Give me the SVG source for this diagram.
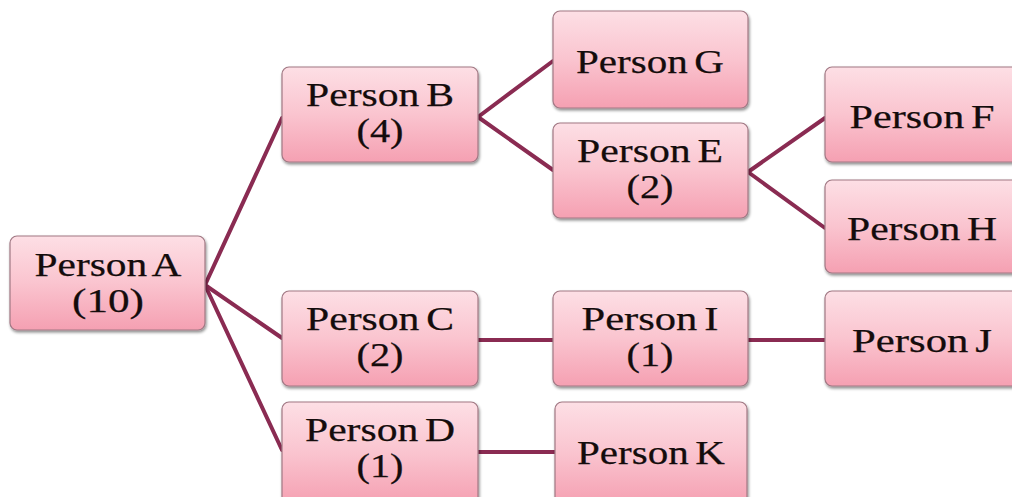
<svg xmlns="http://www.w3.org/2000/svg" width="1012" height="497" viewBox="0 0 1012 497">
  <defs>
    <linearGradient id="boxFill" x1="0" y1="0" x2="0" y2="1">
      <stop offset="0" stop-color="#fddfe5"/>
      <stop offset="0.5" stop-color="#fac4cf"/>
      <stop offset="1" stop-color="#f5a0b2"/>
    </linearGradient>
    <filter id="shadow" x="-10%" y="-10%" width="120%" height="130%">
      <feGaussianBlur in="SourceAlpha" stdDeviation="1.5"/>
      <feOffset dx="1" dy="2" result="b"/>
      <feComponentTransfer><feFuncA type="linear" slope="0.45"/></feComponentTransfer>
      <feMerge><feMergeNode/><feMergeNode in="SourceGraphic"/></feMerge>
    </filter>
  </defs>
  <style>
    .box { fill: url(#boxFill); stroke: #a17884; stroke-width: 1.2; filter: url(#shadow); }
    .lbl { font-family: "Liberation Serif", "DejaVu Serif", serif; font-size: 34px; fill: #140c0c; stroke: #140c0c; stroke-width: 0.25; text-anchor: middle; word-spacing: -3px; }
    .link { stroke: #8a2b52; stroke-width: 4; fill: none; stroke-linecap: round; }
  </style>
  <rect width="1012" height="497" fill="#ffffff"/>

  <!-- connectors -->
  <g id="connectors">
    <line class="link" x1="205" y1="285" x2="282" y2="118"/>
    <line class="link" x1="205" y1="285" x2="282" y2="338"/>
    <line class="link" x1="205" y1="285" x2="282" y2="450"/>
    <line class="link" x1="478" y1="117" x2="553" y2="61"/>
    <line class="link" x1="478" y1="117" x2="553" y2="170"/>
    <line class="link" x1="748" y1="172" x2="825" y2="118"/>
    <line class="link" x1="748" y1="172" x2="825" y2="228"/>
    <line class="link" x1="478" y1="340" x2="553" y2="340"/>
    <line class="link" x1="748" y1="340" x2="825" y2="340"/>
    <line class="link" x1="478" y1="452" x2="555" y2="452"/>
  </g>

  <g id="personA">
    <rect class="box" x="10" y="236" width="195" height="94" rx="7"/>
    <text class="lbl" x="108" y="276" textLength="147" lengthAdjust="spacingAndGlyphs">Person A</text>
    <text class="lbl" x="108" y="312" textLength="72" lengthAdjust="spacingAndGlyphs">(10)</text>
  </g>
  <g id="personB">
    <rect class="box" x="282" y="67" width="196" height="95" rx="7"/>
    <text class="lbl" x="380" y="106" textLength="148" lengthAdjust="spacingAndGlyphs">Person B</text>
    <text class="lbl" x="380" y="142" textLength="47" lengthAdjust="spacingAndGlyphs">(4)</text>
  </g>
  <g id="personG">
    <rect class="box" x="553" y="11" width="195" height="97" rx="7"/>
    <text class="lbl" x="650" y="73" textLength="148" lengthAdjust="spacingAndGlyphs">Person G</text>
  </g>
  <g id="personE">
    <rect class="box" x="553" y="123" width="195" height="95" rx="7"/>
    <text class="lbl" x="650" y="162" textLength="146" lengthAdjust="spacingAndGlyphs">Person E</text>
    <text class="lbl" x="650" y="198" textLength="47" lengthAdjust="spacingAndGlyphs">(2)</text>
  </g>
  <g id="personF">
    <rect class="box" x="825" y="67" width="200" height="95" rx="7"/>
    <text class="lbl" x="922" y="128" textLength="145" lengthAdjust="spacingAndGlyphs">Person F</text>
  </g>
  <g id="personH">
    <rect class="box" x="825" y="180" width="200" height="93" rx="7"/>
    <text class="lbl" x="922" y="240" textLength="150" lengthAdjust="spacingAndGlyphs">Person H</text>
  </g>
  <g id="personC">
    <rect class="box" x="282" y="291" width="196" height="95" rx="7"/>
    <text class="lbl" x="380" y="330" textLength="148" lengthAdjust="spacingAndGlyphs">Person C</text>
    <text class="lbl" x="380" y="366" textLength="47" lengthAdjust="spacingAndGlyphs">(2)</text>
  </g>
  <g id="personI">
    <rect class="box" x="553" y="291" width="195" height="95" rx="7"/>
    <text class="lbl" x="650" y="330" textLength="137" lengthAdjust="spacingAndGlyphs">Person I</text>
    <text class="lbl" x="650" y="366" textLength="47" lengthAdjust="spacingAndGlyphs">(1)</text>
  </g>
  <g id="personJ">
    <rect class="box" x="825" y="291" width="200" height="95" rx="7"/>
    <text class="lbl" x="922" y="352" textLength="140" lengthAdjust="spacingAndGlyphs">Person J</text>
  </g>
  <g id="personD">
    <rect class="box" x="282" y="402" width="196" height="102" rx="7"/>
    <text class="lbl" x="380" y="441" textLength="150" lengthAdjust="spacingAndGlyphs">Person D</text>
    <text class="lbl" x="380" y="477" textLength="47" lengthAdjust="spacingAndGlyphs">(1)</text>
  </g>
  <g id="personK">
    <rect class="box" x="555" y="402" width="192" height="102" rx="7"/>
    <text class="lbl" x="651" y="464" textLength="148" lengthAdjust="spacingAndGlyphs">Person K</text>
  </g>
</svg>
